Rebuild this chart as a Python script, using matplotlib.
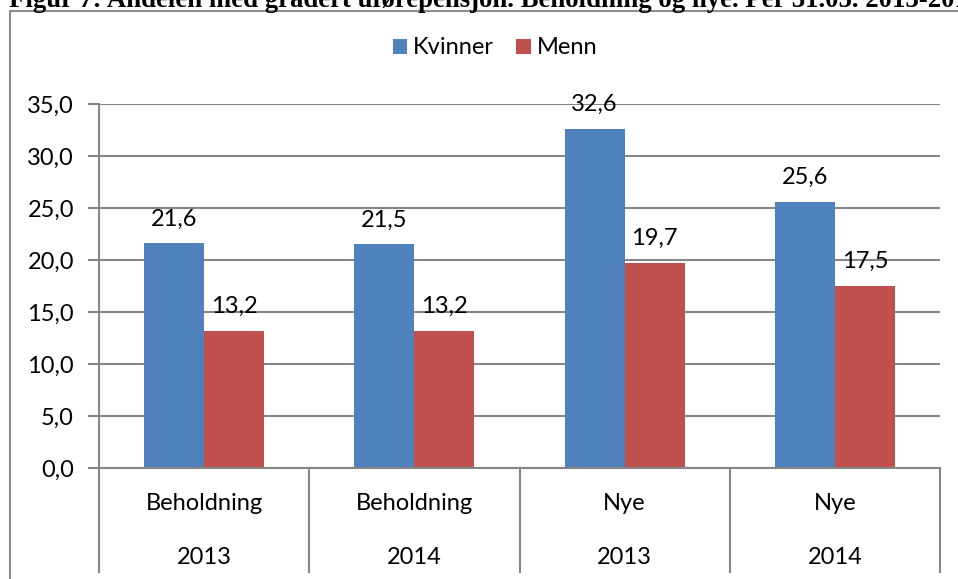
import matplotlib
matplotlib.use("Agg")
import matplotlib.pyplot as plt
from matplotlib.patches import Rectangle
import numpy as np

plt.rcParams['font.family'] = ['Lato', 'DejaVu Sans']

title = "Figur 7: Andelen med gradert uførepensjon. Beholdning og nye. Per 31.05. 2013-2014"
cat_level1 = ["Beholdning", "Beholdning", "Nye", "Nye"]
cat_level2 = ["2013", "2014", "2013", "2014"]
series_names = ["Kvinner", "Menn"]
kvinner = [21.6, 21.5, 32.6, 25.6]
menn = [13.2, 13.2, 19.7, 17.5]
yticks = [0, 5, 10, 15, 20, 25, 30, 35]

colors = ["#4F81BD", "#C0504D"]
grid_c = "#868686"
FS = 17

W, H = 958, 579
fig = plt.figure(figsize=(W / 100, H / 100), dpi=100)

# outer chart frame (cut off at right/bottom)
fig.patches.append(Rectangle((9.5 / W, -0.1), 1.2, (H - 11) / H + 0.1,
                             transform=fig.transFigure, fill=False,
                             edgecolor="#8C8C8C", linewidth=1.5))

# title partially cut off at top
fig.text(9 / W, 1 - 7 / H, title, family="Liberation Serif", weight="bold",
         fontsize=19.3, ha="left", va="baseline")

left, right = 99 / W, 940 / W
bottom, top = (H - 468) / H, (H - 104) / H
ax = fig.add_axes([left, bottom, right - left, top - bottom])

n = len(kvinner)
x = np.arange(n)
bw = 60 / 210
b1 = ax.bar(x - bw / 2, kvinner, bw, color=colors[0], label=series_names[0], zorder=3)
b2 = ax.bar(x + bw / 2, menn, bw, color=colors[1], label=series_names[1], zorder=3)

fmt = lambda v: f"{v:.1f}".replace(".", ",")
for bars, vals in ((b1, kvinner), (b2, menn)):
    for r, v in zip(bars, vals):
        ax.annotate(fmt(v), (r.get_x() + r.get_width() / 2, v), xytext=(0, 10),
                    textcoords="offset points", ha="center", va="bottom",
                    fontsize=FS, color="black")

ax.set_xlim(-0.5, n - 0.5)
ax.set_ylim(0, 35)
ax.set_yticks(yticks)
ax.set_yticklabels([fmt(t) for t in yticks], fontsize=FS)
ax.yaxis.grid(True, color=grid_c, linewidth=1.5, zorder=0)
ax.set_xticks([])
for s in ("top", "right", "bottom"):
    ax.spines[s].set_visible(False)
ax.spines["left"].set_color(grid_c)
ax.spines["left"].set_linewidth(1.5)
ax.tick_params(axis="y", length=8, width=1.5, color=grid_c, pad=10)

# x axis baseline and multi-level category dividers
trans = ax.get_xaxis_transform()
ax.plot([-0.5, n - 0.5], [0, 0], color=grid_c, lw=1.5, transform=trans,
        clip_on=False, zorder=4)
ylow = -104 / 364
for i in range(n + 1):
    ax.plot([i - 0.5, i - 0.5], [0, ylow], color=grid_c, lw=1.5,
            transform=trans, clip_on=False)
for i in range(n):
    ax.text(i, -36 / 364, cat_level1[i], transform=trans, ha="center",
            va="center", fontsize=FS)
    ax.text(i, -90 / 364, cat_level2[i], transform=trans, ha="center",
            va="center", fontsize=FS)

leg = fig.legend(handles=[b1, b2], labels=series_names, loc="center",
                 bbox_to_anchor=(495 / W, 1 - 48 / H), ncol=2, frameon=False,
                 fontsize=FS, handlelength=0.6, handleheight=0.6,
                 handletextpad=0.25, columnspacing=0.95)

fig.savefig("out.png", dpi=100)
